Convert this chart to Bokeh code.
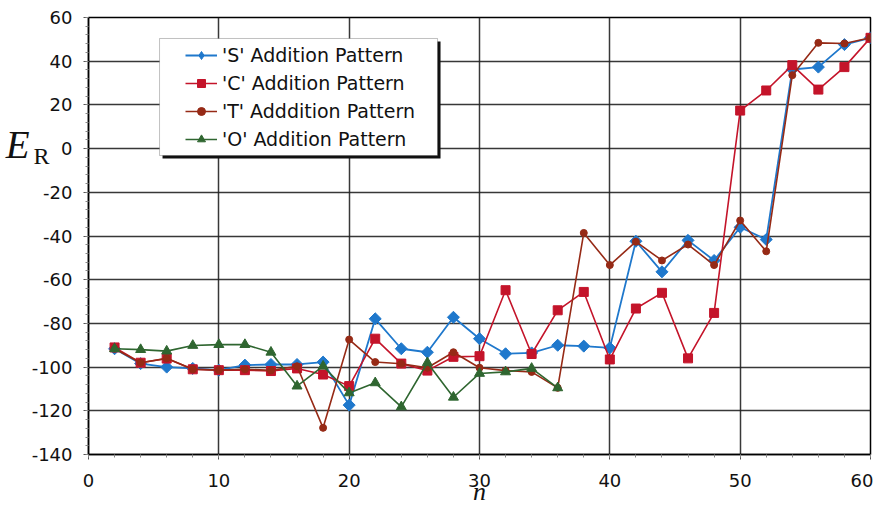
import math
from bokeh.plotting import figure
from bokeh.models import (Legend, LegendItem, SingleIntervalTicker, Range1d,
                          BoxAnnotation, LinearAxis, FixedTicker,
                          PrintfTickFormatter)
from bokeh.embed import file_html
from bokeh.resources import INLINE

# ---- data ----
n_all = [2, 4, 6, 8, 10, 12, 14, 16, 18, 20, 22, 24, 26, 28, 30,
         32, 34, 36, 38, 40, 42, 44, 46, 48, 50, 52, 54, 56, 58, 60]
s_vals = [-91.6, -98.4, -100.0, -100.6, -101.4, -99.1, -98.8, -98.8, -97.7, -117.4,
          -77.9, -91.6, -93.2, -77.2, -87.0, -93.9, -93.5, -90.0, -90.4, -91.2,
          -42.4, -56.4, -42.0, -51.2, -36.0, -41.6, 36.2, 37.3, 47.6, 50.7]
c_vals = [-91.0, -98.0, -96.1, -101.0, -101.4, -101.4, -101.8, -100.6, -103.4, -108.7,
          -87.0, -98.4, -101.6, -95.3, -95.0, -64.8, -94.0, -74.0, -65.6, -96.5,
          -73.2, -66.0, -96.0, -75.2, 17.4, 26.6, 38.2, 27.0, 37.3, 50.7]
t_vals = [-91.6, -98.0, -96.0, -101.0, -101.4, -101.0, -101.5, -99.6, -127.8, -87.4,
          -97.7, -98.5, -100.3, -93.2, -100.3, -101.6, -102.2, -109.5, -38.6, -53.3,
          -42.6, -51.2, -43.9, -53.3, -32.9, -47.0, 33.6, 48.4, 48.1, 50.7]
n_o = [2, 4, 6, 8, 10, 12, 14, 16, 18, 20, 22, 24, 26, 28, 30, 32, 34, 36]
o_vals = [-91.6, -92.0, -92.7, -90.1, -89.7, -89.7, -93.2, -108.7, -99.6, -111.8,
          -107.2, -118.2, -98.0, -113.8, -102.9, -102.2, -100.6, -109.5]

labels = ["'S' Addition Pattern", "'C' Addition Pattern",
          "'T' Adddition Pattern", "'O' Addition Pattern"]

BLUE = "#1f78cc"
RED = "#c4142a"
BROWN = "#962a16"
GREEN = "#2f6630"

p = figure(width=873, height=508, output_backend="svg", toolbar_location=None,
           x_range=Range1d(0, 60), y_range=Range1d(-140, 60),
           min_border_left=88, min_border_right=3, min_border_top=17,
           min_border_bottom=54)

p.background_fill_color = "white"
p.outline_line_color = "black"
p.outline_line_width = 1.5

for ax, interval in ((p.xaxis[0], 10), (p.yaxis[0], 20)):
    ax.ticker = SingleIntervalTicker(interval=interval, num_minor_ticks=5)
    ax.formatter = PrintfTickFormatter(format="%d")
    ax.major_label_text_font = "DejaVu Sans"
    ax.major_label_text_font_size = "18px"
    ax.major_label_text_color = "#111111"
    ax.axis_line_color = "black"
    ax.axis_line_width = 1.5
    ax.major_tick_line_color = "#555555"
    ax.minor_tick_line_color = "#888888"
    ax.major_tick_in = 0
    ax.major_tick_out = 5
    ax.minor_tick_in = 0
    ax.minor_tick_out = 3

p.xaxis[0].major_label_standoff = 14
p.yaxis[0].major_label_standoff = 11

# x axis label "n"
p.xaxis[0].axis_label = "n"
p.xaxis[0].axis_label_text_font = "Liberation Serif"
p.xaxis[0].axis_label_text_font_style = "italic"
p.xaxis[0].axis_label_text_font_size = "26px"
p.xaxis[0].axis_label_text_color = "#111111"
p.xaxis[0].axis_label_standoff = -13

# y axis label E_R built from two label-only axes
def label_axis(tick, text, size, style, standoff):
    ax = LinearAxis(ticker=FixedTicker(ticks=[tick]),
                    major_label_overrides={tick: text})
    ax.major_label_text_font = "Liberation Serif"
    ax.major_label_text_font_style = style
    ax.major_label_text_font_size = size
    ax.major_label_text_color = "#111111"
    ax.axis_line_color = None
    ax.major_tick_line_color = None
    ax.minor_tick_line_color = None
    ax.major_tick_out = 0
    ax.major_tick_in = 0
    ax.major_label_standoff = standoff
    return ax

p.add_layout(label_axis(-3.2, "R", "24px", "normal", -21), "left")
p.add_layout(label_axis(1.8, "E", "39px", "italic", -1), "left")

for g in (p.xgrid[0], p.ygrid[0]):
    g.grid_line_color = "#222222"
    g.grid_line_width = 1.5
    g.grid_line_alpha = 0.9

rs_l = p.line(n_all, s_vals, line_color=BLUE, line_width=1.8)
rs_m = p.scatter(n_all, s_vals, marker="square", angle=math.pi / 4, size=8.5,
                 fill_color=BLUE, line_color=BLUE)
# legend-only diamond (hidden in the plot)
rs_leg = p.scatter(n_all[:1], s_vals[:1], marker="diamond", size=14,
                   fill_color=BLUE, line_color=BLUE, visible=False)
rc_l = p.line(n_all, c_vals, line_color=RED, line_width=1.6)
rc_m = p.scatter(n_all, c_vals, marker="square", size=9, fill_color=RED,
                 line_color=RED)
rt_l = p.line(n_all, t_vals, line_color=BROWN, line_width=1.6)
rt_m = p.scatter(n_all, t_vals, marker="circle", size=7, fill_color=BROWN,
                 line_color=BROWN)
ro_l = p.line(n_o, o_vals, line_color=GREEN, line_width=1.6)
ro_m = p.scatter(n_o, o_vals, marker="triangle", size=10, fill_color=GREEN,
                 line_color=GREEN)

# legend frame with shadow
shadow = BoxAnnotation(left=5.68, right=27.01, top=49.02, bottom=-4.53,
                       fill_color="#111111", fill_alpha=1.0, line_color=None)
frame_box = BoxAnnotation(left=5.45, right=26.78, top=50.39, bottom=-3.16,
                          fill_color="white", fill_alpha=1.0,
                          line_color="#333333", line_width=1)
p.add_layout(shadow)
p.add_layout(frame_box)

legend = Legend(items=[
    LegendItem(label=labels[0], renderers=[rs_l, rs_leg]),
    LegendItem(label=labels[1], renderers=[rc_l, rc_m]),
    LegendItem(label=labels[2], renderers=[rt_l, rt_m]),
    LegendItem(label=labels[3], renderers=[ro_l, ro_m]),
], location=(97, 304), padding=0, spacing=6, glyph_width=32, glyph_height=20,
    label_height=20, label_standoff=5, border_line_color=None,
    background_fill_alpha=0.0, label_text_font="DejaVu Sans",
    label_text_font_size="19px", label_text_color="#111111", margin=0,
    inactive_fill_alpha=0.0)
p.add_layout(legend, "center")

open("out.html", "w").write(file_html(p, INLINE))
